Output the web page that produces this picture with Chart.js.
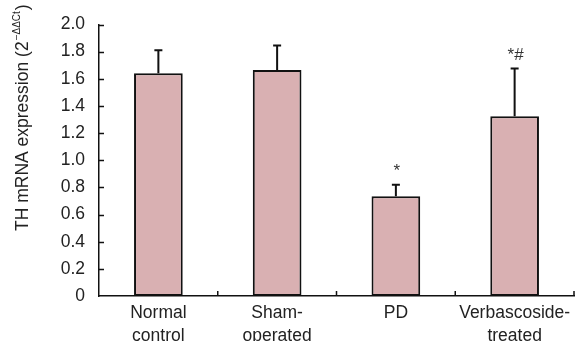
<!DOCTYPE html>
<html>
<head>
<meta charset="utf-8">
<script src="https://cdn.jsdelivr.net/npm/chart.js@4.4.1/dist/chart.umd.min.js"></script>
<style>
  html, body { margin: 0; padding: 0; background: #fff; }
  #wrap { width: 580px; height: 341px; }
</style>
</head>
<body>
<div id="wrap"><canvas id="chart" width="580" height="341"></canvas></div>
<script>
// group labels (two lines each)
const categories = [
    ['Normal', 'control'],
    ['Sham-', 'operated'],
    ['PD'],
    ['Verbascoside-', 'treated']
];
// mean TH mRNA expression (2^-ΔΔCt)
const meanValues = [1.64, 1.665, 0.735, 1.325];
// standard deviations (drawn as upward whiskers)
const sdValues = [0.17, 0.18, 0.085, 0.35];
// significance marks above whiskers
const sigMarks = ['', '', '*', '*#'];

const FONT = '"Liberation Sans", Arial, sans-serif';
const TEXT = '#222';

// inward tick marks on both axes
const innerTicks = {
    id: 'innerTicks',
    afterDraw(chart) {
        const { ctx, chartArea, scales } = chart;
        ctx.save();
        ctx.strokeStyle = '#111';
        ctx.lineWidth = 1.5;
        ctx.beginPath();
        scales.y.ticks.forEach(t => {
            if (t.value === 0) return;
            const y = Math.round(scales.y.getPixelForValue(t.value)) + 0.5;
            ctx.moveTo(chartArea.left, y);
            ctx.lineTo(chartArea.left + 5, y);
        });
        const half = (scales.x.getPixelForValue(1) - scales.x.getPixelForValue(0)) / 2;
        categories.forEach((c, i) => {
            const x = scales.x.getPixelForValue(i) + half;
            ctx.moveTo(x, chartArea.bottom);
            ctx.lineTo(x, chartArea.bottom - 5);
        });
        ctx.stroke();
        ctx.restore();
    }
};

// error bars and significance marks
const errorBars = {
    id: 'errorBars',
    afterDatasetsDraw(chart) {
        const { ctx, scales } = chart;
        const meta = chart.getDatasetMeta(0);
        ctx.save();
        meta.data.forEach((bar, i) => {
            const top = scales.y.getPixelForValue(meanValues[i] + sdValues[i]);
            ctx.strokeStyle = '#111';
            ctx.lineWidth = 2;
            ctx.beginPath();
            ctx.moveTo(bar.x, bar.y);
            ctx.lineTo(bar.x, top);
            ctx.moveTo(bar.x - 4, top);
            ctx.lineTo(bar.x + 4, top);
            ctx.stroke();
            if (sigMarks[i]) {
                ctx.fillStyle = '#333';
                ctx.font = '17px ' + FONT;
                ctx.textAlign = 'center';
                ctx.textBaseline = 'bottom';
                ctx.fillText(sigMarks[i], bar.x + 1, top - 5);
            }
        });
        ctx.restore();
    }
};

// rotated y-axis title with superscript
const yTitle = {
    id: 'yTitle',
    afterDraw(chart) {
        const { ctx } = chart;
        const main = 'TH mRNA expression (2';
        const sup = '\u2212\u0394\u0394Ct';
        const close = ')';
        ctx.save();
        ctx.translate(23, 231);
        ctx.rotate(-Math.PI / 2);
        ctx.fillStyle = TEXT;
        ctx.textAlign = 'left';
        ctx.textBaseline = 'middle';
        ctx.font = '17.5px ' + FONT;
        ctx.fillText(main, 0, 0);
        let x = ctx.measureText(main).width;
        ctx.font = '10px ' + FONT;
        ctx.fillText(sup, x + 1, -6);
        x += ctx.measureText(sup).width + 2;
        ctx.font = '17.5px ' + FONT;
        ctx.fillText(close, x, 0);
        ctx.restore();
    }
};

new Chart(document.getElementById('chart'), {
    type: 'bar',
    data: {
        labels: categories,
        datasets: [{
            data: meanValues,
            backgroundColor: '#d9b0b2',
            borderColor: '#111',
            borderWidth: 2,
            borderSkipped: false,
            categoryPercentage: 1,
            barPercentage: 0.41
        }]
    },
    options: {
        responsive: false,
        animation: false,
        layout: { padding: { top: 20, right: 6, left: 0, bottom: 0 } },
        plugins: {
            legend: { display: false },
            tooltip: { enabled: false }
        },
        scales: {
            x: {
                grid: { display: false, drawTicks: false },
                border: { display: true, color: '#111', width: 1.5 },
                ticks: {
                    color: TEXT,
                    padding: 6,
                    maxRotation: 0,
                    autoSkip: false,
                    font: { family: FONT, size: 17.5, lineHeight: 1.32 }
                },
                afterFit(s) { s.height = 45; }
            },
            y: {
                min: 0,
                max: 2,
                grid: { display: false, drawTicks: false },
                border: { display: true, color: '#111', width: 1.5 },
                ticks: {
                    stepSize: 0.2,
                    color: TEXT,
                    padding: 14,
                    font: { family: FONT, size: 17.5 },
                    callback: v => v === 0 ? '0' : v.toFixed(1)
                },
                afterFit(s) { s.width = 99; }
            }
        }
    },
    plugins: [innerTicks, errorBars, yTitle]
});
</script>
</body>
</html>
